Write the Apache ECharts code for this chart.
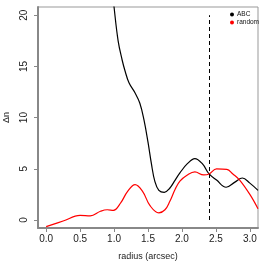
<!DOCTYPE html>
<html><head><meta charset="utf-8">
<script src="https://cdn.jsdelivr.net/npm/echarts@6/dist/echarts.min.js"></script>
<style>html,body{margin:0;padding:0;background:#fff}#c{width:266px;height:266px}</style>
</head><body><div id="c"></div>
<script>
const seriesNames = ['ABC', 'random'];
const abcR = [0.95, 1.0, 1.06, 1.12, 1.16, 1.22, 1.31, 1.38, 1.44, 1.5, 1.55, 1.6, 1.66, 1.74, 1.82, 1.9, 1.97, 2.08, 2.19, 2.3, 2.4, 2.51, 2.65, 2.78, 2.89, 3.0, 3.12];
const abcV = [24, 20.8, 17.5, 15.6, 14.6, 13.4, 12.4, 11.4, 9.8, 7.6, 5.5, 3.8, 2.9, 2.7, 3.1, 3.9, 4.6, 5.5, 6.0, 5.5, 4.5, 3.9, 3.2, 3.7, 4.1, 3.6, 2.9];
const randR = [0.0, 0.25, 0.5, 0.65, 0.8, 0.9, 0.99, 1.1, 1.2, 1.31, 1.42, 1.53, 1.66, 1.75, 1.82, 1.9, 1.97, 2.08, 2.19, 2.32, 2.4, 2.51, 2.66, 2.75, 2.85, 3.0, 3.12];
const randV = [-0.65, -0.1, 0.45, 0.4, 0.85, 1.0, 0.95, 1.7, 2.8, 3.45, 2.8, 1.4, 0.7, 1.0, 1.8, 3.0, 3.8, 4.4, 4.7, 4.4, 4.5, 5.0, 4.95, 4.5, 3.9, 2.5, 1.1];
const xTicks = [0, 0.5, 1.0, 1.5, 2.0, 2.5, 3.0];
const yTicks = [0, 5, 10, 15, 20];
const cutR = 2.4;
const cutSpan = [0, 20];

const chart = echarts.init(document.getElementById('c'));
const font = 'Liberation Sans, Arial, sans-serif';
chart.setOption({
  animation: false,
  grid: {left: 38, top: 7, right: 8, bottom: 38, show: true, borderColor: '#999', borderWidth: 1, outerBoundsMode: 'none', containLabel: false},
  legend: {
    data: seriesNames, orient: 'vertical', left: 230, top: 11, itemGap: 1, padding: 0,
    icon: 'circle', itemWidth: 4, itemHeight: 4,
    textStyle: {fontSize: 6.5, fontFamily: font, color: '#111', padding: [0,0,0,-2]}
  },
  xAxis: {
    type: 'value', min: -0.12, max: 3.12,
    name: 'radius (arcsec)', nameLocation: 'middle', nameGap: 24,
    nameTextStyle: {fontSize: 9, fontFamily: font, color: '#222'},
    axisLine: {show: true, onZero: false, lineStyle: {color: '#888', width: 2}},
    axisTick: {show: true, length: 4, customValues: xTicks, lineStyle: {color: '#888'}},
    axisLabel: {customValues: xTicks, fontSize: 10, fontFamily: font, color: '#222', margin: 6,
      formatter: v => v.toFixed(1)},
    splitLine: {show: false}
  },
  yAxis: {
    type: 'value', min: -0.78, max: 20.8,
    name: 'Δn', nameLocation: 'middle', nameGap: 27, nameRotate: 90,
    nameTextStyle: {fontSize: 9, fontFamily: font, color: '#222'},
    axisLine: {show: true, onZero: false, lineStyle: {color: '#888', width: 2}},
    axisTick: {show: true, length: 4, customValues: yTicks, lineStyle: {color: '#888'}},
    axisLabel: {customValues: yTicks, fontSize: 10, fontFamily: font, color: '#222', margin: 9, rotate: 90},
    splitLine: {show: false}
  },
  series: [
    {name: seriesNames[0], type: 'line', smooth: 0.4, showSymbol: false, clip: true,
     itemStyle: {color: '#000'}, lineStyle: {color: '#000', width: 1.2},
     data: abcR.map((r, i) => [r, abcV[i]]),
     markLine: {silent: true, symbol: 'none', label: {show: false},
       lineStyle: {color: '#000', type: [4, 3], width: 1},
       data: [[{coord: [cutR, cutSpan[0]]}, {coord: [cutR, cutSpan[1]]}]]}},
    {name: seriesNames[1], type: 'line', smooth: 0.4, showSymbol: false, clip: true,
     itemStyle: {color: '#ff0000'}, lineStyle: {color: '#ff0000', width: 1.2},
     data: randR.map((r, i) => [r, randV[i]])}
  ]
});
</script></body></html>
